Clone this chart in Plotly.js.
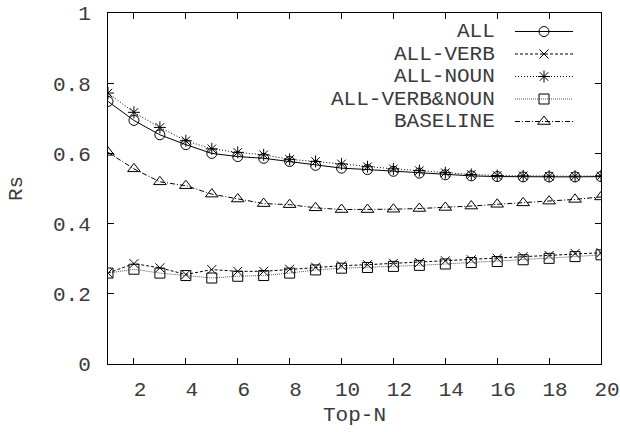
<!DOCTYPE html>
<html>
<head>
<meta charset="utf-8">
<script src="https://cdn.plot.ly/plotly-3.0.1.min.js"></script>
<style>html,body{margin:0;padding:0;background:#fff;}#chart{width:620px;height:432px;}</style>
</head>
<body>
<div id="chart"></div>
<script>
// ---- data ----
const topN = [1,2,3,4,5,6,7,8,9,10,11,12,13,14,15,16,17,18,19,20];
const seriesNames = ["ALL", "ALL-VERB", "ALL-NOUN", "ALL-VERB&NOUN", "BASELINE"];
const allVals      = [0.748,0.694,0.653,0.625,0.600,0.591,0.586,0.577,0.566,0.558,0.554,0.549,0.544,0.539,0.536,0.534,0.533,0.533,0.533,0.534];
const allVerbVals  = [0.259,0.286,0.274,0.255,0.269,0.264,0.264,0.270,0.276,0.280,0.283,0.287,0.289,0.294,0.297,0.301,0.306,0.309,0.315,0.317];
const allNounVals  = [0.772,0.717,0.674,0.636,0.613,0.603,0.596,0.583,0.577,0.570,0.562,0.556,0.551,0.545,0.540,0.537,0.536,0.535,0.535,0.536];
const allVNVals    = [0.259,0.270,0.259,0.252,0.245,0.250,0.252,0.259,0.268,0.273,0.275,0.278,0.281,0.285,0.289,0.292,0.297,0.301,0.306,0.311];
const baselineVals = [0.603,0.556,0.519,0.508,0.484,0.470,0.457,0.454,0.445,0.440,0.440,0.441,0.443,0.446,0.450,0.455,0.459,0.464,0.469,0.476];
const xTicks = [2,4,6,8,10,12,14,16,18,20];
const yTicks = [0,0.2,0.4,0.6,0.8,1];
const yTickText = ["0","0.2","0.4","0.6","0.8","1"];

// ---- styles ----
const FONT = "Liberation Mono, Courier New, monospace";
const TXT = "#3a3a3a";
const styles = [
  {sym:"circle-open",      size:10, dash:"solid",            color:"#000"},
  {sym:"x-thin-open",      size:9,  dash:"3px,2px",          color:"#000"},
  {sym:"asterisk-open",    size:10, dash:"1px,2px",          color:"#000"},
  {sym:"square-open",      size:10, dash:"1px,1px",          color:"#555"},
  {sym:"triangle-up-open", size:11, dash:"5px,2px,1px,2px",  color:"#000"}
];
const seriesVals = [allVals, allVerbVals, allNounVals, allVNVals, baselineVals];

const W = 620, H = 432;
const M = {l:108, r:19, t:13, b:68};

const traces = [];
seriesVals.forEach((vals, i) => {
  const s = styles[i];
  traces.push({
    x: topN, y: vals, type: "scatter", mode: "lines+markers", name: seriesNames[i],
    line: {color: s.color, width: 1, dash: s.dash},
    marker: {symbol: s.sym, size: s.size, color: "#000", line: {color: "#000", width: 1}},
    showlegend: false, hoverinfo: "skip"
  });
});

// ---- legend (gnuplot style: text, then line sample with marker) drawn on an overlay pixel axis ----
const legRow0 = 31.5, legStep = 22.5;
const legX0 = 515, legX1 = 573, legXm = 544, legTextX = 497;
const annotations = [];
seriesNames.forEach((nm, i) => {
  const s = styles[i];
  const yy = legRow0 + i * legStep;
  traces.push({
    x: [legX0, legX1], y: [yy, yy], xaxis: "x2", yaxis: "y2", type: "scatter", mode: "lines",
    line: {color: s.color, width: 1, dash: s.dash}, showlegend: false, hoverinfo: "skip"
  });
  traces.push({
    x: [legXm], y: [yy], xaxis: "x2", yaxis: "y2", type: "scatter", mode: "markers",
    marker: {symbol: s.sym, size: s.size, color: "#000", line: {color: "#000", width: 1}},
    showlegend: false, hoverinfo: "skip"
  });
  annotations.push({
    x: legTextX, y: yy, xref: "x2", yref: "y2", text: nm, showarrow: false,
    xanchor: "right", yanchor: "middle", font: {family: FONT, size: 21, color: TXT}
  });
});

const layout = {
  width: W, height: H,
  margin: M,
  paper_bgcolor: "#fff", plot_bgcolor: "#fff",
  font: {family: FONT, size: 21, color: TXT},
  showlegend: false,
  xaxis: {
    range: [1, 20], tickmode: "array", tickvals: xTicks, ticktext: xTicks.map(String),
    ticks: "inside", ticklen: 6, tickwidth: 1, tickcolor: "#000",
    showline: true, linecolor: "#000", linewidth: 1, mirror: "ticks",
    showgrid: false, zeroline: false,
    ticklabelstandoff: 6, ticklabelshift: 6,
    tickfont: {family: FONT, size: 21, color: TXT},
    title: {text: "Top-N", font: {family: FONT, size: 21, color: TXT}, standoff: 5}
  },
  yaxis: {
    range: [0, 1], tickmode: "array", tickvals: yTicks, ticktext: yTickText,
    ticks: "inside", ticklen: 6, tickwidth: 1, tickcolor: "#000",
    showline: true, linecolor: "#000", linewidth: 1, mirror: "ticks",
    showgrid: false, zeroline: false,
    ticklabelstandoff: 12,
    tickfont: {family: FONT, size: 21, color: TXT},
    title: {text: "Rs", font: {family: FONT, size: 21, color: TXT}, standoff: 24}
  },
  xaxis2: {overlaying: "x", range: [M.l, W - M.r], visible: false, fixedrange: true},
  yaxis2: {overlaying: "y", range: [H - M.b, M.t], visible: false, fixedrange: true},
  annotations: annotations
};

Plotly.newPlot("chart", traces, layout, {staticPlot: true, displayModeBar: false});
</script>
</body>
</html>
